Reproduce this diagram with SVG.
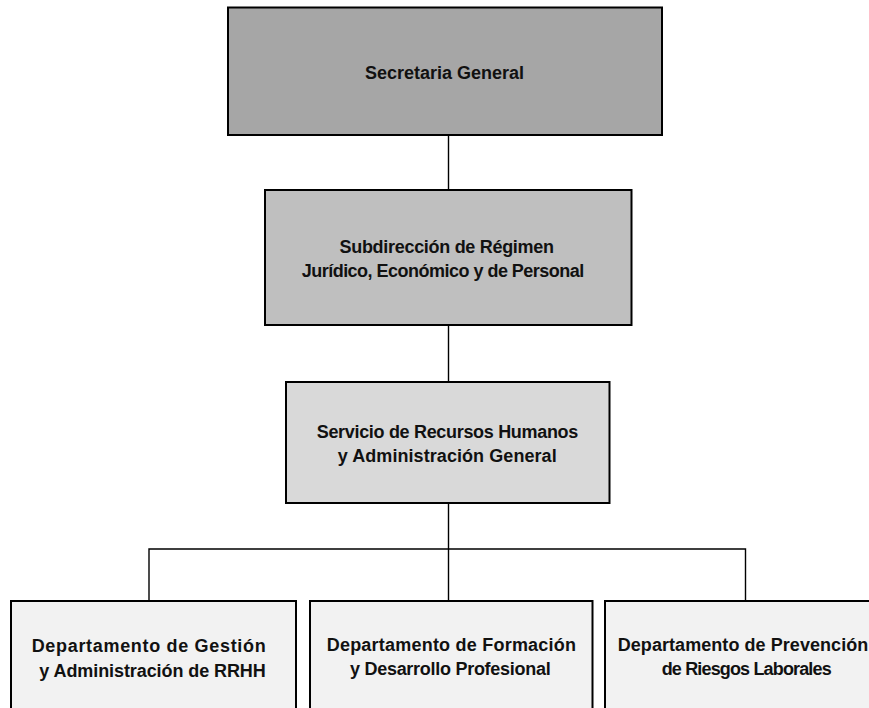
<svg xmlns="http://www.w3.org/2000/svg" width="869" height="708" viewBox="0 0 869 708">
  <style>
    .box { stroke: #000; stroke-width: 2; }
    .lvl1 { fill: #a6a6a6; }
    .lvl2 { fill: #bfbfbf; }
    .lvl3 { fill: #d9d9d9; }
    .lvl4 { fill: #f2f2f2; }
    .lbl { font-family: "Liberation Sans", Arial, sans-serif; font-weight: bold; font-size: 18px; fill: #111; }
    .conn { stroke: #000; stroke-width: 1.4; fill: none; }
  </style>
  <rect width="869" height="708" fill="#fff"/>

  <!-- connectors -->
  <g id="connectors">
    <line class="conn" x1="448.5" y1="135" x2="448.5" y2="190"/>
    <line class="conn" x1="448.5" y1="325" x2="448.5" y2="382"/>
    <line class="conn" x1="448.5" y1="503" x2="448.5" y2="601"/>
    <polyline class="conn" points="149,601 149,549 745.5,549 745.5,601"/>
  </g>

  <g id="secretaria-general">
    <rect class="box lvl1" x="228" y="7.5" width="434" height="127.5"/>
    <text class="lbl" x="365" y="79" textLength="159">Secretaria General</text>
  </g>

  <g id="subdireccion">
    <rect class="box lvl2" x="265" y="190" width="366.5" height="135"/>
    <text class="lbl" x="339.5" y="252.5" textLength="214.5">Subdirección de Régimen</text>
    <text class="lbl" x="301.7" y="276.7" textLength="282.6">Jurídico, Económico y de Personal</text>
  </g>

  <g id="servicio-rrhh">
    <rect class="box lvl3" x="286" y="382" width="323.5" height="121"/>
    <text class="lbl" x="316.7" y="438.3" textLength="261.6">Servicio de Recursos Humanos</text>
    <text class="lbl" x="337.7" y="462" textLength="219">y Administración General</text>
  </g>

  <g id="dep-gestion">
    <rect class="box lvl4" x="11" y="601" width="285" height="120"/>
    <text class="lbl" x="31.7" y="652.3" textLength="234">Departamento de Gestión</text>
    <text class="lbl" x="39.3" y="677" textLength="226.4">y Administración de RRHH</text>
  </g>

  <g id="dep-formacion">
    <rect class="box lvl4" x="310" y="601" width="282.5" height="120"/>
    <text class="lbl" x="326.7" y="651.3" textLength="249.3">Departamento de Formación</text>
    <text class="lbl" x="350" y="675" textLength="200.7">y Desarrollo Profesional</text>
  </g>

  <g id="dep-prevencion">
    <rect class="box lvl4" x="605" y="601" width="285" height="120"/>
    <text class="lbl" x="617.7" y="650.5" textLength="250.6">Departamento de Prevención</text>
    <text class="lbl" x="661.7" y="675" textLength="170">de Riesgos Laborales</text>
  </g>
</svg>
